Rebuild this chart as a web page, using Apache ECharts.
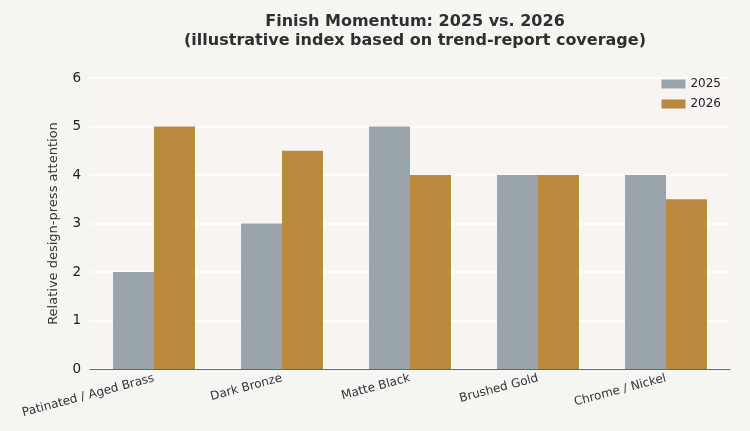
<!DOCTYPE html>
<html>
<head>
<meta charset="utf-8">
<script src="https://cdn.jsdelivr.net/npm/echarts@6/dist/echarts.min.js"></script>
<style>
  html, body { margin: 0; padding: 0; background: #f5f5f2; }
  #chart { width: 750px; height: 431px; }
</style>
</head>
<body>
<div id="chart"></div>
<script>
// Data
const finishes   = ['Patinated / Aged Brass', 'Dark Bronze', 'Matte Black', 'Brushed Gold', 'Chrome / Nickel'];
const values2025 = [2, 3, 5, 4, 4];
const values2026 = [5, 4.5, 4, 4, 3.5];
const seriesNames = ['2025', '2026'];

const chart = echarts.init(document.getElementById('chart'));

const font = "'DejaVu Sans', sans-serif";

chart.setOption({
  backgroundColor: '#f5f5f2',
  animation: false,
  title: {
    text: 'Finish Momentum: 2025 vs. 2026\n(illustrative index based on trend-report coverage)',
    left: 410,
    textAlign: 'center',
    top: 7,
    textStyle: {
      fontFamily: font,
      fontSize: 16,
      fontWeight: 'bold',
      color: '#2f2f2f',
      lineHeight: 19
    }
  },
  legend: {
    data: seriesNames,
    orient: 'vertical',
    right: 24,
    top: 73,
    itemWidth: 24,
    itemHeight: 9,
    itemGap: 8,
    icon: 'rect',
    textStyle: { fontFamily: font, fontSize: 12, color: '#222' }
  },
  grid: {
    left: 90,
    right: 20,
    top: 78,
    bottom: 62,
    show: true,
    borderWidth: 0,
    backgroundColor: '#f7f4f2'
  },
  xAxis: {
    type: 'category',
    data: finishes,
    axisLine: { lineStyle: { color: '#666', width: 1.2 } },
    axisTick: { alignWithLabel: true, length: 5, lineStyle: { color: '#444' } },
    axisLabel: {
      fontFamily: font,
      fontSize: 12,
      color: '#333',
      rotate: 15,
      interval: 0,
      margin: 9
    }
  },
  yAxis: {
    type: 'value',
    min: 0,
    max: 6,
    interval: 1,
    name: 'Relative design-press attention',
    nameLocation: 'middle',
    nameGap: 30,
    nameTextStyle: { fontFamily: font, fontSize: 13, color: '#333' },
    axisLine: { show: false },
    axisTick: { show: false },
    axisLabel: { fontFamily: font, fontSize: 13.5, color: '#222', margin: 9 },
    splitLine: { lineStyle: { color: '#ffffff', width: 1.5 } }
  },
  series: [
    {
      name: seriesNames[0],
      type: 'bar',
      data: values2025,
      barGap: '0%',
      barCategoryGap: '36%',
      itemStyle: { color: '#9aa5ab' }
    },
    {
      name: seriesNames[1],
      type: 'bar',
      data: values2026,
      barGap: '0%',
      barCategoryGap: '36%',
      itemStyle: { color: '#b8893e' }
    }
  ]
});
</script>
</body>
</html>
